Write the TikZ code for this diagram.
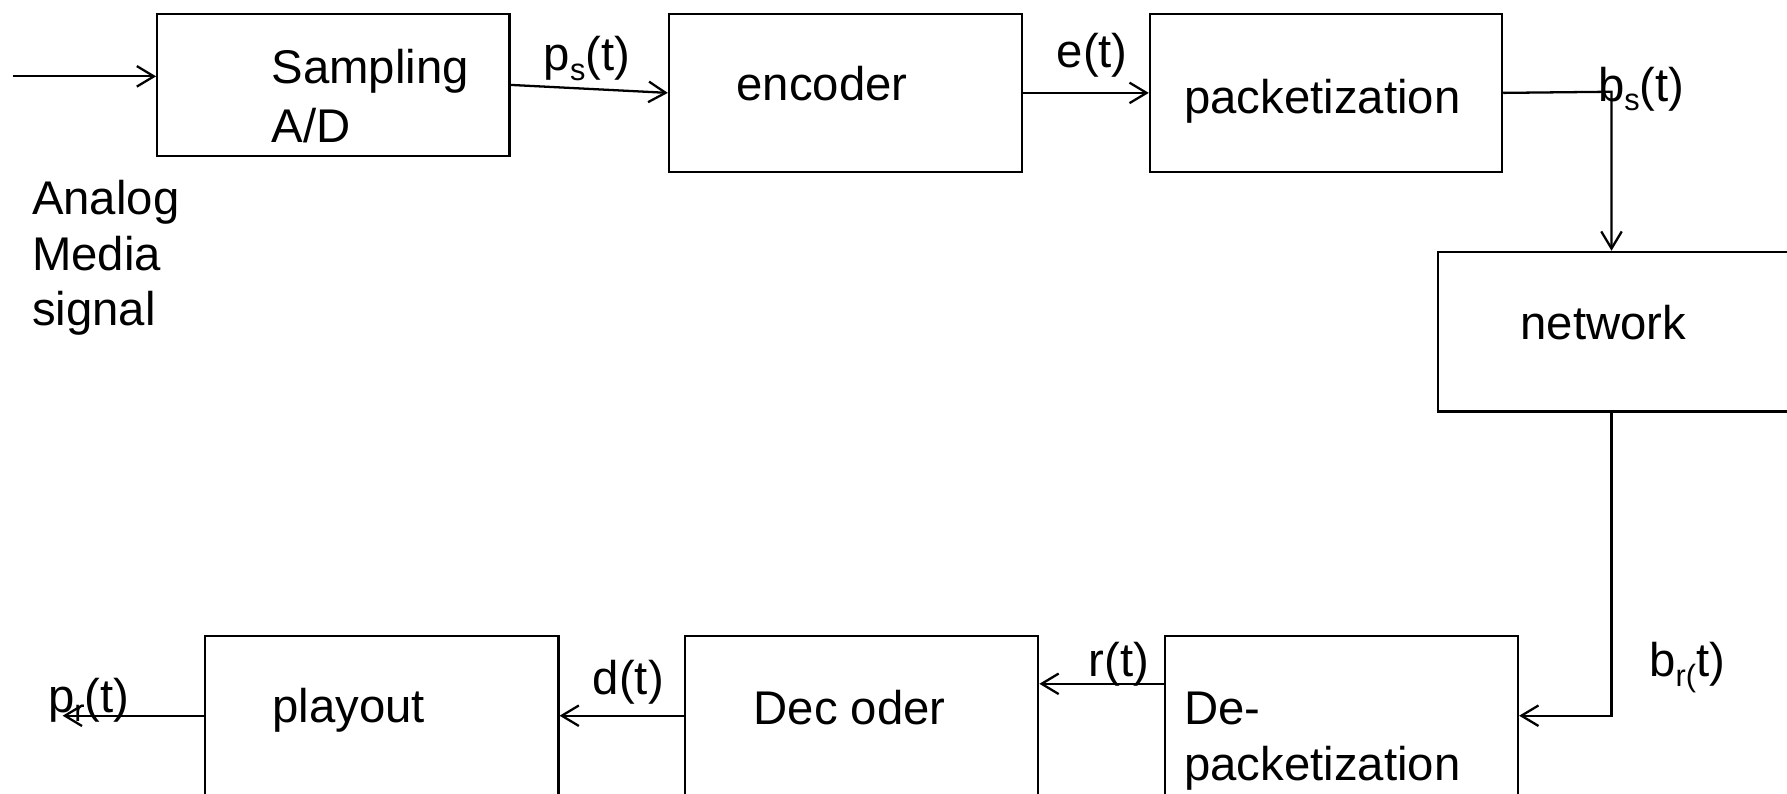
\documentclass[tikz,border=0pt]{standalone}
\usepackage{fontspec}
\setmainfont{Liberation Sans}
\usetikzlibrary{arrows.meta}
\newcommand{\sbs}[1]{\raisebox{-0.2em}{\fontsize{27}{27}\selectfont #1}}
\begin{document}
\begin{tikzpicture}[x=1pt,y=-1pt,
  blk/.style={draw, line width=2pt, inner sep=0pt, anchor=north west},
  lbl/.style={anchor=base west, inner sep=0pt, font=\fontsize{41.5}{49}\selectfont},
  arr/.style={-{Straight Barb[length=15pt,width=18pt]}, line width=2pt}]
\useasboundingbox (0,0) rectangle (1568,696);
\clip (0,0) rectangle (1568,696);
% blocks
\node[blk, minimum width=309pt, minimum height=125pt] (samp) at (137,11) {};
\node[blk, minimum width=310pt, minimum height=139pt] (enc) at (586,11) {};
\node[blk, minimum width=309pt, minimum height=139pt] (pack) at (1008,11) {};
\node[blk, minimum width=400pt, minimum height=140pt] (net) at (1261,220) {};
\node[blk, minimum width=310pt, minimum height=220pt] (dep) at (1021,557) {};
\node[blk, minimum width=310pt, minimum height=220pt] (dec) at (600,557) {};
\node[blk, minimum width=310pt, minimum height=220pt] (play) at (179,557) {};
% connectors
\coordinate (in) at (11,67);
\coordinate (j1) at (1414,80.5);
\coordinate (j2) at (1414,628);
\coordinate (rt) at (0,600);
\coordinate (out) at (55,628);
\draw[arr] (in) -- (in -| samp.west);
\draw[arr] (samp.east) -- (enc.west);
\draw[arr] (enc.east) -- (pack.west);
\draw[arr] (pack.east) -- (j1) -- (j1 |- net.north);
\draw[arr] (j1 |- net.south) -- (j2) -- (j2 -| dep.east);
\draw[arr] (dep.west |- rt) -- (dec.east |- rt);
\draw[arr] (dec.west |- j2) -- (play.east |- j2);
\draw[arr] (play.west |- j2) -- (out);
% texts
\node[lbl] (tsamp) at (238,73) {Sampling};
\node[lbl] (tad) at (238,125) {A/D};
\node[lbl] (tps) at (477,62) {p\sbs{s}(t)};
\node[lbl] (tenc) at (646,88) {encoder};
\node[lbl] (tet) at (927,59) {e(t)};
\node[lbl] (tpack) at (1039,100) {packetization};
\node[lbl] (tbs) at (1402,89) {b\sbs{s}(t)};
\node[lbl] (ta1) at (28,188) {Analog};
\node[lbl] (ta2) at (28,237) {Media};
\node[lbl] (ta3) at (28,286) {signal};
\node[lbl] (tnet) at (1334,298) {network};
\node[lbl] (tbr) at (1447,594) {b\sbs{r(}t)};
\node[lbl] (trt) at (955,594) {r(t)};
\node[lbl] (tdt) at (520,609) {d(t)};
\node[lbl] (tpr) at (42,625) {p\sbs{r}(t)};
\node[lbl] (tplay) at (239,634) {playout};
\node[lbl] (tdec) at (661,636) {Dec oder};
\node[lbl] (tde) at (1039,636) {De-};
\node[lbl] (tdep) at (1039,685) {packetization};
\end{tikzpicture}
\end{document}
